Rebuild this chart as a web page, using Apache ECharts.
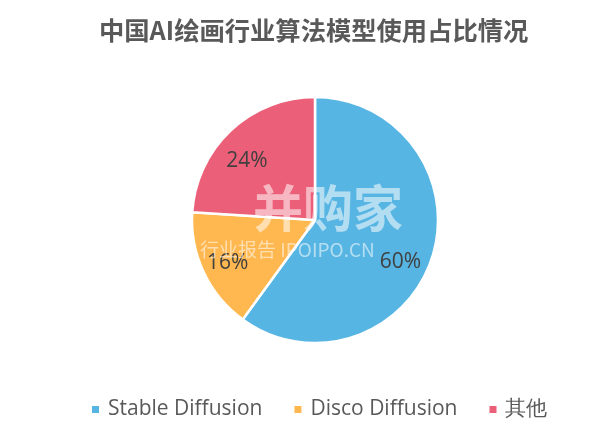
<!DOCTYPE html>
<html>
<head>
<meta charset="utf-8">
<script src="https://cdn.jsdelivr.net/npm/echarts@6/dist/echarts.min.js"></script>
<style>html,body{margin:0;padding:0;background:#fff;}#chart{width:591px;height:446px;}</style>
</head>
<body>
<div id="chart"></div>
<script>
const titleText = '中国AI绘画行业算法模型使用占比情况';
const categories = ['Stable Diffusion', 'Disco Diffusion', '其他'];
const values = [60, 16, 24];
const colors = ['#57B5E3', '#FFB74F', '#EC5F78'];
const labelShift = [[24, 22], [-29, 16], [-24, -12]];

const chart = echarts.init(document.getElementById('chart'), null, {renderer: 'canvas'});
chart.setOption({
  backgroundColor: '#ffffff',
  animation: false,
  title: {
    text: titleText, left: 94, top: 13,
    textStyle: {fontFamily: 'Noto Sans CJK SC', fontWeight: 'bold', fontSize: 25.3, color: '#595959'}
  },
  legend: {
    bottom: 21, left: 85, itemWidth: 9, itemHeight: 9, itemGap: 30,
    icon: 'rect',
    textStyle: {fontFamily: 'Open Sans', fontSize: 21, color: '#595959', padding: [0,0,0,3]},
    data: categories
  },
  series: [{
    type: 'pie',
    center: [315, 220],
    radius: 123,
    startAngle: 90,
    clockwise: true,
    data: categories.map((c, i) => ({name: c, value: values[i], itemStyle: {color: colors[i]}})),
    itemStyle: {borderColor: '#ffffff', borderWidth: 2.5},
    label: {show: true, position: 'inside', formatter: '{d}%', fontFamily: 'Open Sans', fontSize: 21, color: '#404040'},
    labelLine: {show: false},
    labelLayout: function (p) { return {dx: labelShift[p.dataIndex][0], dy: labelShift[p.dataIndex][1]}; },
    emphasis: {disabled: true}
  }],
  graphic: [
    {type: 'text', left: 253, top: 183, silent: true, z: 100,
     style: {text: '并购家', fontFamily: 'Noto Sans CJK SC', fontWeight: 'bold', fontSize: 50, fill: 'rgba(255,255,255,0.55)'}},
    {type: 'text', left: 200, top: 240, silent: true, z: 100,
     style: {text: '行业报告 IPOIPO.CN', fontFamily: 'Noto Sans CJK SC', fontSize: 19, fill: 'rgba(255,255,255,0.55)'}}
  ]
});
</script>
</body>
</html>
